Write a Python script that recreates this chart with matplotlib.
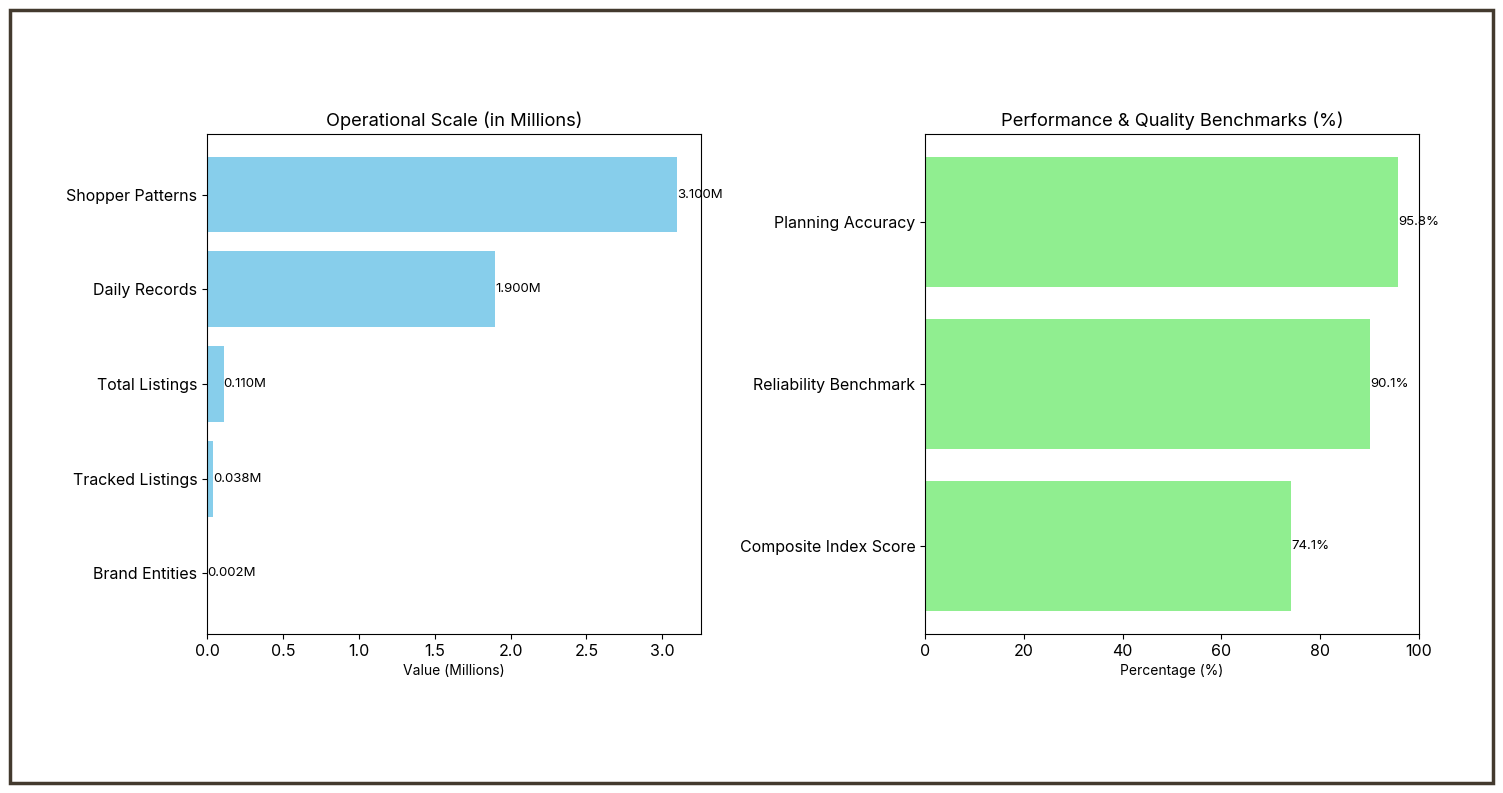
import matplotlib
matplotlib.use("Agg")
import matplotlib.pyplot as plt
from matplotlib.patches import Rectangle

plt.rcParams['font.family'] = ['Inter', 'DejaVu Sans']

# Operational scale, in millions (bottom to top)
scale_labels = ["Brand Entities", "Tracked Listings", "Total Listings",
                "Daily Records", "Shopper Patterns"]
scale_values = [0.002, 0.038, 0.110, 1.900, 3.100]

# Benchmarks in percent (bottom to top)
bench_labels = ["Composite Index Score", "Reliability Benchmark", "Planning Accuracy"]
bench_values = [74.1, 90.1, 95.8]

W, H = 1503, 793
fig = plt.figure(figsize=(W / 100, H / 100), dpi=100)
fig.patch.set_facecolor("white")

ax1 = fig.add_axes([207 / W, 1 - 634 / H, 494 / W, 500 / H])
ax2 = fig.add_axes([925 / W, 1 - 634 / H, 494 / W, 500 / H])

ax1.barh(scale_labels, scale_values, color="skyblue")
for i, v in enumerate(scale_values):
    ax1.text(v, i, "%.3fM" % v, va="center", ha="left", fontsize=9.5)
ax1.set_xlim(0, max(scale_values) * 1.05)
ax1.set_title("Operational Scale (in Millions)", fontsize=13.2)
ax1.set_xlabel("Value (Millions)", fontsize=10)
ax1.tick_params(labelsize=11.5)

ax2.barh(bench_labels, bench_values, color="lightgreen")
for i, v in enumerate(bench_values):
    ax2.text(v, i, "%.1f%%" % v, va="center", ha="left", fontsize=9.5)
ax2.set_xlim(0, 100)
ax2.set_title("Performance & Quality Benchmarks (%)", fontsize=13.2)
ax2.set_xlabel("Percentage (%)", fontsize=10)
ax2.tick_params(labelsize=11.5)

# frame around the whole picture
fig.patches.append(Rectangle((10 / W, 10 / H), 1 - 20 / W, 1 - 20 / H,
                             transform=fig.transFigure, fill=False,
                             edgecolor="#433a2e", linewidth=2.5))

fig.savefig("out.png", dpi=100)
